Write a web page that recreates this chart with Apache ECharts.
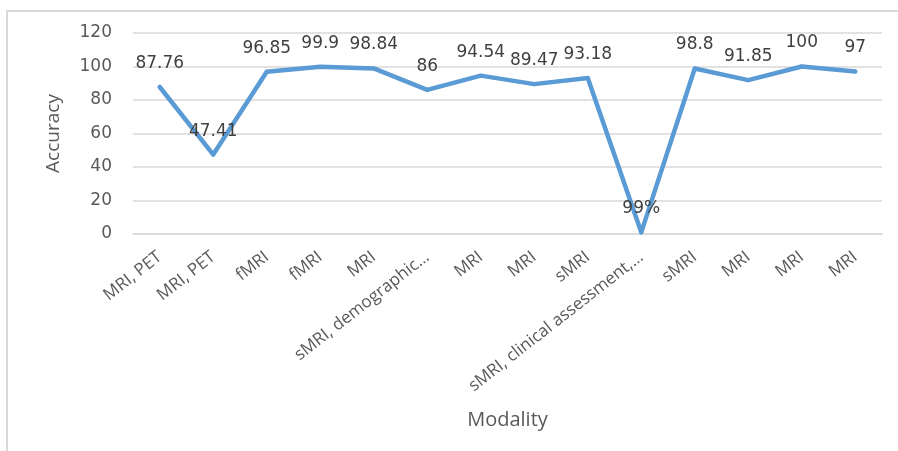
<!DOCTYPE html>
<html>
<head>
<meta charset="utf-8">
<script src="https://cdn.jsdelivr.net/npm/echarts@6/dist/echarts.min.js"></script>
<style>
html,body{margin:0;padding:0;background:#fff;}
#chart{width:898px;height:451px;}
</style>
</head>
<body>
<div id="chart"></div>
<script>
const categories = ['MRI, PET','MRI, PET','fMRI','fMRI','MRI','sMRI, demographic…','MRI','MRI','sMRI','sMRI, clinical assessment,…','sMRI','MRI','MRI','MRI'];
const accuracy = [87.76, 47.41, 96.85, 99.9, 98.84, 86, 94.54, 89.47, 93.18, 0.99, 98.8, 91.85, 100, 97];
const dataLabels = ['87.76','47.41','96.85','99.9','98.84','86','94.54','89.47','93.18','99%','98.8','91.85','100','97'];
const yTicks = {min: 0, max: 120, interval: 20};

const chart = echarts.init(document.getElementById('chart'), null, {renderer: 'canvas'});
chart.setOption({
  backgroundColor: '#ffffff',
  animation: false,
  graphic: [
    {type: 'line', shape: {x1: 6, y1: 11, x2: 898, y2: 11}, style: {stroke: '#d9d9d9', lineWidth: 2}},
    {type: 'line', shape: {x1: 7, y1: 10, x2: 7, y2: 451}, style: {stroke: '#d9d9d9', lineWidth: 2}}
  ],
  grid: {left: 133, right: 16, top: 33, bottom: 217, containLabel: false},
  xAxis: {
    type: 'category',
    data: categories,
    boundaryGap: true,
    axisLine: {show: true, lineStyle: {color: '#d9d9d9', width: 1.5}},
    axisTick: {show: false},
    axisLabel: {
      rotate: 38, interval: 0, margin: 21,
      color: '#595959', fontFamily: 'Open Sans', fontSize: 17
    },
    name: 'Modality',
    nameLocation: 'middle',
    nameGap: 176,
    nameTextStyle: {color: '#595959', fontFamily: 'Open Sans', fontSize: 20}
  },
  yAxis: {
    type: 'value',
    min: yTicks.min, max: yTicks.max, interval: yTicks.interval,
    axisLine: {show: false},
    axisTick: {show: false},
    splitLine: {lineStyle: {color: '#d9d9d9', width: 1.5}},
    axisLabel: {color: '#595959', fontFamily: 'DejaVu Sans', fontSize: 17, margin: 21},
    name: 'Accuracy',
    nameLocation: 'middle',
    nameGap: 70,
    nameTextStyle: {color: '#595959', fontFamily: 'Open Sans', fontSize: 19}
  },
  series: [{
    type: 'line',
    data: accuracy,
    symbol: 'circle',
    symbolSize: 4,
    showSymbol: true,
    lineStyle: {color: '#5b9bd5', width: 4.5, cap: 'round', join: 'round'},
    itemStyle: {color: '#5b9bd5', borderWidth: 0},
    label: {
      show: true,
      position: 'top',
      distance: 13,
      color: '#404040',
      fontFamily: 'DejaVu Sans',
      fontSize: 17,
      formatter: p => dataLabels[p.dataIndex]
    },
    labelLayout: {hideOverlap: false}
  }]
});
</script>
</body>
</html>
